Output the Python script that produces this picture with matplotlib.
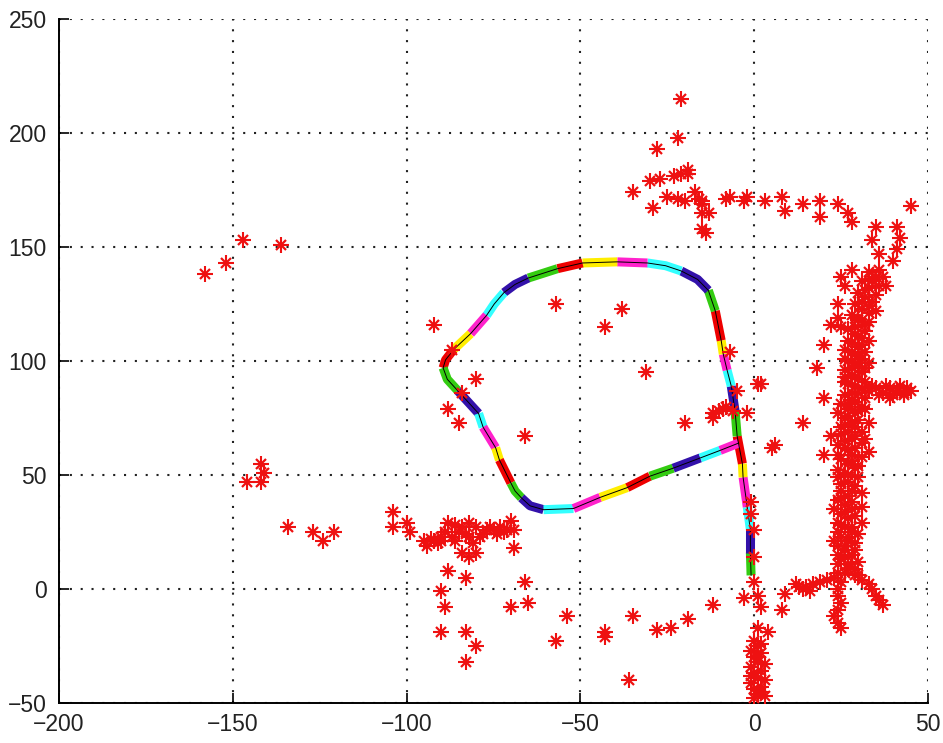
import matplotlib
matplotlib.use("Agg")
import matplotlib.pyplot as plt

# trajectory points; path_piece gives the colour piece each point starts
path_x = [-0.9, -1.1, -1.1, -2.0, -3.2, -3.4, -4.9, -5.5, -6.6, -7.8, -8.9, -9.5,
          -11.2, -13.2, -16.3, -21.0, -25.5, -30.7, -39.4, -49.4, -56.6, -65.0, -68.8,
          -72.0, -74.8, -77.0, -81.6, -86.5, -88.8, -89.5, -88.3, -85.3, -79.3, -78.0,
          -74.4, -73.3, -70.0, -68.8, -67.0, -64.5, -60.6, -52.0, -44.3, -36.5, -30.0,
          -23.3, -15.5, -9.8, -4.5]
path_y = [6, 16, 26, 36, 49, 55, 67, 78, 89, 96, 103, 109,
          122, 131, 135.8, 139.5, 141.8, 143, 143.5, 143, 140.5, 136.4, 133.6,
          130, 125, 120, 112, 105, 100.5, 97, 92, 87, 77, 71,
          62, 56.6, 46.5, 43, 40, 36.5, 34.8, 35.3, 40.2, 44.5, 49.5,
          53, 57.5, 60.8, 64]
path_piece = [0, 1, 2, 3, 4, 5, 6, 7, 8, 9, 10, 11,
              12, 13, 13, 14, 14, 15, 16, 17, 18, 19, 19,
              20, 20, 21, 22, 23, 23, 24, 24, 25, 26, 27,
              28, 29, 30, 30, 31, 31, 32, 33, 34, 35, 36,
              37, 38, 39, 40]
path_colors = ["#33cc11", "#3311aa", "#33ffff", "#ff22cc", "#ffee00", "#ee0000"]

# detected points (red asterisks), grouped by region
far_x = [-158, -152, -147, -136, -142, -141, -146, -142, -134, -127, -124, -121]
far_y = [138, 143, 153, 151, 55, 51, 47, 47, 27, 25, 21, 25]

left_x = [-104, -104, -100, -99, -95, -94, -92, -90, -88, -87, -86, -84, -82, -82,
          -80, -82, -80, -77, -75, -74, -70, -69, -69, -85, -78, -72, -90, -84,
          -88, -83, -90, -89, -90, -83, -80, -83, -66, -65, -70,
          -93, -91, -89, -86, -83, -81, -79, -76, -73, -71]
left_y = [34, 27, 29, 25, 21, 19, 21, 21, 29, 23, 21, 16, 29, 23,
          27, 14, 16, 26, 26, 24, 30, 26, 18, 25, 24, 25, 23, 27,
          8, 5, -1, -8, -19, -19, -25, -32, 3, -6, -8,
          22, 20, 25, 28, 24, 20, 23, 27, 27, 26]

low_x = [-57, -54, -43, -43, -36, -35, -28, -24, -19, -12,
         -1, -1, 0, 0, 0, -3, 1, 2, 1, 4, 9, 8,
         0, 1, -1, 2, 0, 1, 3, -1, 2, 0, 1, 3, -1, 2, 0, 1, 3, 0, 2, 1, -1, 2]
low_y = [-23, -12, -19, -21, -40, -12, -18, -17, -13, -7,
         38, 33, 26, 14, 3, -4, -3, -8, -17, -19, -2, -9,
         -23, -25, -27, -28, -30, -32, -33, -34, -36, -37, -39, -40, -41, -43, -44, -46, -47, -48, -24, -30, -38, -45]

loop_x = [-92, -87, -80, -84, -88, -85, -66, -57, -38, -43, -31, -20,
          -12, -10, -8, -9, -6, -7, -5, 1, -2, 5, -12]
loop_y = [116, 105, 92, 86, 79, 73, 67, 125, 123, 115, 95, 73,
          77, 78, 80, 79, 78, 104, 87, 90, 77, 62, 75]

top_x = [-21, -22, -28, -35, -29, -30, -27, -23, -21, -19, -19, -25, -22, -20, -17, -16,
         -15, -13, -15, -14, -15, -15, -8, -7, -3, -2, 3, 8, 9, 14, 19, 19, 24, 27, 28,
         35, 34, 36, 41, 42, 41, 40, 45]
top_y = [215, 198, 193, 174, 167, 179, 180, 181, 182, 182, 184, 172, 171, 170, 174, 171,
         169, 165, 158, 156, 170, 165, 171, 172, 170, 172, 170, 172, 166, 169, 170, 163, 169, 165, 161,
         159, 153, 147, 159, 154, 149, 144, 168]

right_x = [25, 28, 26, 37, 38, 34, 24, 24, 22, 25, 20, 18, 20, 14, 6, 20, 22, 2]
right_y = [137, 140, 133, 137, 133, 135, 125, 119, 116, 115, 107, 97, 84, 73, 63, 59, 67, 90]

band_x = [33, 35, 31, 33, 30, 32, 34, 29, 31, 33, 28, 30, 32,
          27, 29, 31, 28, 30, 26, 29, 31, 27, 29, 32, 26, 28, 30, 27, 29, 31,
          33, 35, 37, 39, 41, 43, 44, 40, 36, 34, 38, 42, 45, 39, 43,
          26, 28, 25, 27, 29, 26, 28, 25, 27, 29, 26, 24, 27, 28, 25, 27,
          29, 26, 24, 27, 29, 25, 27, 24, 26, 28, 25, 27, 24, 26, 28, 25, 27, 24, 26, 28, 25, 27, 29, 26,
          30, 31, 33, 34, 35, 36, 37,
          23, 21, 19, 17, 15, 13, 12, 14, 16,
          25, 24, 24, 25, 24, 23, 24, 25]
band_y = [139, 137, 135, 132, 130, 128, 126, 125, 123, 121, 120, 118, 116,
          114, 112, 110, 108, 106, 105, 103, 101, 100, 98, 97, 96, 94, 92, 90, 89, 88,
          87, 88, 86, 88, 87, 86, 88, 85, 85, 89, 89, 89, 87, 84, 85,
          85, 83, 81, 79, 77, 75, 73, 71, 69, 67, 65, 63, 61, 59, 57, 55,
          53, 51, 49, 47, 45, 43, 41, 39, 37, 35, 33, 31, 29, 27, 25, 23, 21, 19, 17, 15, 13, 11, 9, 7,
          6, 4, 2, 0, -3, -5, -7,
          5, 4, 3, 2, 1, 1, 2, 0, -1,
          3, 0, -3, -6, -9, -12, -15, -17]

band2_x = [36, 34, 36, 32, 35, 33, 31, 35, 30, 33, 29, 32, 30, 33, 27, 31, 28, 32, 30, 26,
           30, 33, 28, 26, 31, 29, 32, 26, 28, 30, 32, 29, 31, 27, 30, 24, 27, 30, 26, 29,
           31, 25, 28, 31, 26, 29, 31, 24, 28, 30, 24, 27, 30, 25, 28, 31, 25, 28, 31, 23,
           26, 29, 31, 25, 28, 30, 24, 27, 29, 23, 26, 29, 24, 27, 30, 24, 27, 29, 24,
           32, 33, 32, 33]
band2_y = [140, 136, 133, 131, 129, 124, 126, 122, 119, 117, 115, 113, 111, 109, 109, 107, 104, 104, 102, 101,
           99, 99, 97, 93, 95, 93, 91, 91, 86, 86, 84, 82, 80, 81, 78, 77, 76, 74, 72, 71,
           69, 68, 66, 64, 62, 62, 58, 59, 56, 54, 52, 50, 49, 46, 43, 42, 40, 38, 36, 35,
           34, 32, 29, 28, 27, 24, 25, 23, 20, 21, 19, 17, 15, 14, 12, 11, 9, 6, 7,
           79, 73, 66, 60]

pts_x = far_x + left_x + low_x + loop_x + top_x + right_x + band_x + band2_x
pts_y = far_y + left_y + low_y + loop_y + top_y + right_y + band_y + band2_y

plt.rcParams["font.family"] = ["Liberation Sans", "DejaVu Sans"]

fig = plt.figure(figsize=(9.43, 7.43), dpi=100)
ax = fig.add_axes([0.0626, 0.0538, 0.9215, 0.9206])

# coloured trajectory: one polyline per piece, then a thin black line on top
start = 0
for i in range(1, len(path_x)):
    if path_piece[i] != path_piece[start] or i == len(path_x) - 1:
        ax.plot(path_x[start:i + 1], path_y[start:i + 1],
                color=path_colors[path_piece[start] % len(path_colors)],
                lw=6.5, solid_capstyle="butt", solid_joinstyle="round", zorder=2)
        start = i
ax.plot(path_x, path_y, color="k", lw=0.7, zorder=3)

# MATLAB style '*' marker: a big plus and a small cross
ax.plot(pts_x, pts_y, ls="none", marker="+", ms=12, mew=1.5, color="#ee1111", zorder=4)
ax.plot(pts_x, pts_y, ls="none", marker="x", ms=7, mew=1.6, color="#ee1111", zorder=4)

ax.set_xlim(-200, 50)
ax.set_ylim(-50, 250)
ax.set_xticks(range(-200, 51, 50))
ax.set_yticks(range(-50, 251, 50))
ax.grid(True, color="#222222", lw=1.5, ls=(0, (1, 4.2)))
ax.set_axisbelow(True)
for side in ("top", "right"):
    ax.spines[side].set_visible(False)
for side in ("left", "bottom"):
    ax.spines[side].set_linewidth(1.4)
ax.tick_params(direction="in", length=7, width=1.2, labelsize=16.5, labelcolor="#222222")
ax.tick_params(axis="y", pad=9)
ax.tick_params(axis="x", pad=7)

fig.savefig("out.png", dpi=100)
